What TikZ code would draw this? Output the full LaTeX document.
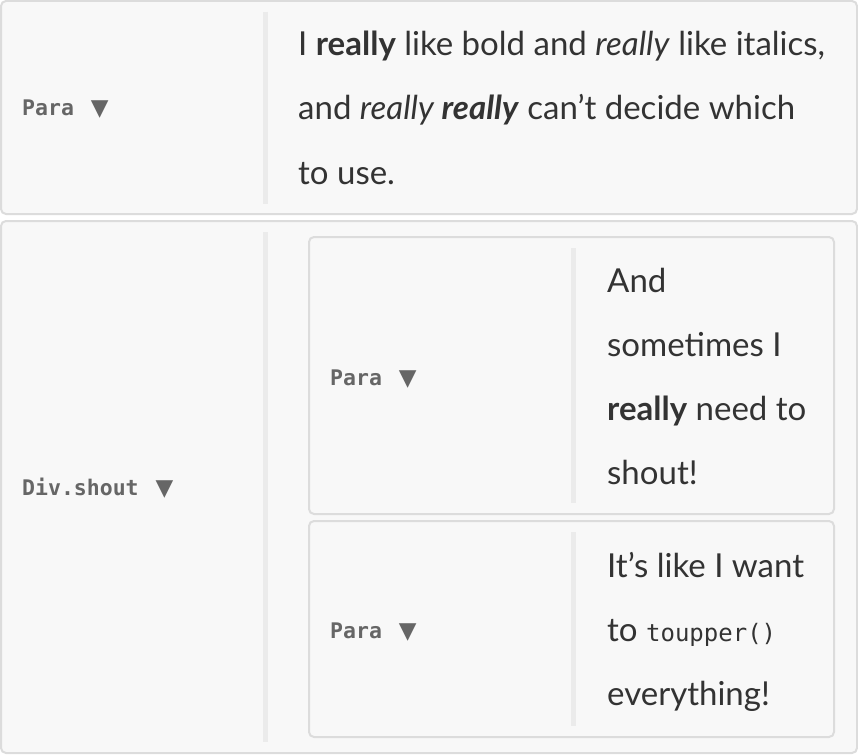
\documentclass[tikz,border=0pt]{standalone}
\usepackage{fontspec}
\setmainfont{Lato}
\newfontfamily\labelmono{DejaVu Sans Mono}
\newfontfamily\symfont{DejaVu Sans}
\definecolor{boxfill}{HTML}{F8F8F8}
\definecolor{boxline}{HTML}{DCDCDC}
\definecolor{divline}{HTML}{EBEBEB}
\definecolor{bodytext}{HTML}{333333}
\definecolor{labeltext}{HTML}{666666}
\tikzset{
  card/.style={draw=boxline, line width=2pt, fill=boxfill, rounded corners=5pt},
  divider/.style={draw=divline, line width=5pt},
  bodyline/.style={anchor=base west, inner sep=0pt, text=bodytext, font=\fontsize{33}{34}\selectfont},
  tag/.style={anchor=base west, inner sep=0pt, text=labeltext, font=\labelmono\bfseries\fontsize{21.5}{22}\selectfont},
}
\newcommand{\tri}{\hspace{17pt}{\symfont\fontsize{23}{23}\selectfont ▼}}
\newcommand{\codew}[1]{{\labelmono\fontsize{24}{24}\selectfont #1}}
\begin{document}
\begin{tikzpicture}[x=1pt,y=-1pt]
\useasboundingbox[fill=white] (0,0) rectangle (858,754);
% cards
\draw[card] (1,1) rectangle (857,214);
\draw[card] (1,221) rectangle (857,753);
\draw[card] (309,237) rectangle (834,514);
\draw[card] (309,521) rectangle (834,737);
% dividers
\draw[divider] (265.5,12) -- (265.5,204);
\draw[divider] (265.5,232) -- (265.5,742);
\draw[divider] (573,248) -- (573,503);
\draw[divider] (573,532) -- (573,726);
% labels
\node[tag] (p1) at (22,116) {Para\tri};
\node[tag] (div) at (22,495) {Div.shout\tri};
\node[tag] (p2) at (330,385) {Para\tri};
\node[tag] (p3) at (330,638) {Para\tri};
% paragraph 1
\node[bodyline] (l11) at (298,56) {I \textbf{really} like bold and \textit{really} like italics,};
\node[bodyline] (l12) at (298,120) {and \textit{really \textbf{really}} can’t decide which};
\node[bodyline] (l13) at (298,184) {to use.};
% paragraph 2
\node[bodyline] (l21) at (607,292) {And};
\node[bodyline] (l22) at (607,356) {sometimes I};
\node[bodyline] (l23) at (607,420) {\textbf{really} need to};
\node[bodyline] (l24) at (607,484) {shout!};
% paragraph 3
\node[bodyline] (l31) at (607,577) {It’s like I want};
\node[bodyline] (l32) at (607,641) {to \codew{toupper()}};
\node[bodyline] (l33) at (607,705) {everything!};
\end{tikzpicture}
\end{document}
